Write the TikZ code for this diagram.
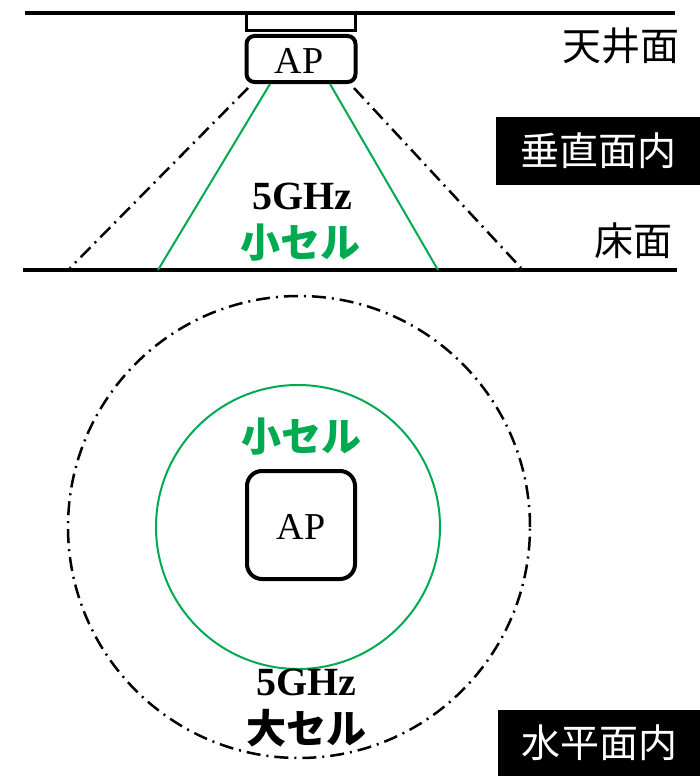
\documentclass[tikz,border=0pt]{standalone}
\usepackage{fontspec}
\setmainfont{Liberation Serif}
\newfontfamily\jp{Noto Sans CJK JP}
\definecolor{cellgreen}{RGB}{0,170,80}
\begin{document}
\begin{tikzpicture}[x=1pt,y=-1pt,
  surf/.style={line width=4pt},
  apbox/.style={draw,line width=4pt,rounded corners=8pt,inner sep=0pt},
  grn/.style={draw=cellgreen,line width=2pt},
  dd/.style={line width=2.5pt,dash pattern=on 14pt off 6pt on 2pt off 6pt},
  lbl/.style={font=\jp\fontsize{39}{44}\selectfont,inner sep=0pt},
  tag/.style={fill=black,text=white,font=\jp\fontsize{39}{44}\selectfont,minimum width=204pt,minimum height=68pt,inner sep=0pt},
  ghz/.style={font=\bfseries\fontsize{40}{44}\selectfont,inner sep=0pt},
  cell/.style={font=\jp\bfseries\fontsize{40}{44}\selectfont,inner sep=0pt},
  aptext/.style={font=\fontsize{38}{42}\selectfont,inner sep=0pt}
]
\useasboundingbox (0,0) rectangle (700,776);
% vertical plane
\coordinate (cl) at (25,13); \coordinate (cr) at (675,13);
\coordinate (fl) at (23,270); \coordinate (fr) at (677,270);
\draw[surf] (cl) -- (cr);
\draw[surf] (fl) -- (fr);
\node[draw,line width=3pt,minimum width=109pt,minimum height=17pt,inner sep=0pt] (mount) at (301,22) {};
\node[apbox,minimum width=109pt,minimum height=46pt] (ap1) at (301,59) {};
\node[aptext] (ap1t) at (299,61) {AP};
\coordinate (g1a) at (270,84); \coordinate (g1b) at (158,270);
\coordinate (g2a) at (330,84); \coordinate (g2b) at (438,270);
\draw[grn] (g1a) -- (g1b);
\draw[grn] (g2a) -- (g2b);
\coordinate (d1a) at (248,88); \coordinate (d1b) at (70,268);
\coordinate (d2a) at (354,88); \coordinate (d2b) at (521,268);
\draw[dd] (d1a) -- (d1b);
\draw[dd] (d2a) -- (d2b);
\node[ghz] (ghz1) at (302,196) {5GHz};
\node[cell,text=cellgreen] (cell1) at (300,243) {小セル};
\node[lbl] (ceil) at (621,46) {天井面};
\node[lbl] (floor) at (633,241) {床面};
\node[tag] (vtag) at (598,151) {垂直面内};
% horizontal plane
\node[circle,dd,draw,minimum size=462pt,inner sep=0pt] (big) at (299,527) {};
\node[circle,grn,minimum size=284pt,inner sep=0pt] (small) at (298,527) {};
\node[apbox,rounded corners=15pt,minimum width=108pt,minimum height=108pt] (ap2) at (301,525) {};
\node[aptext] (ap2t) at (301,527) {AP};
\node[cell,text=cellgreen] (cell2) at (301,437) {小セル};
\node[ghz] (ghz2) at (306,682) {5GHz};
\node[cell] (cell3) at (306,728) {大セル};
\node[tag,minimum width=202pt,minimum height=66pt] (htag) at (599,743) {水平面内};
\end{tikzpicture}
\end{document}
